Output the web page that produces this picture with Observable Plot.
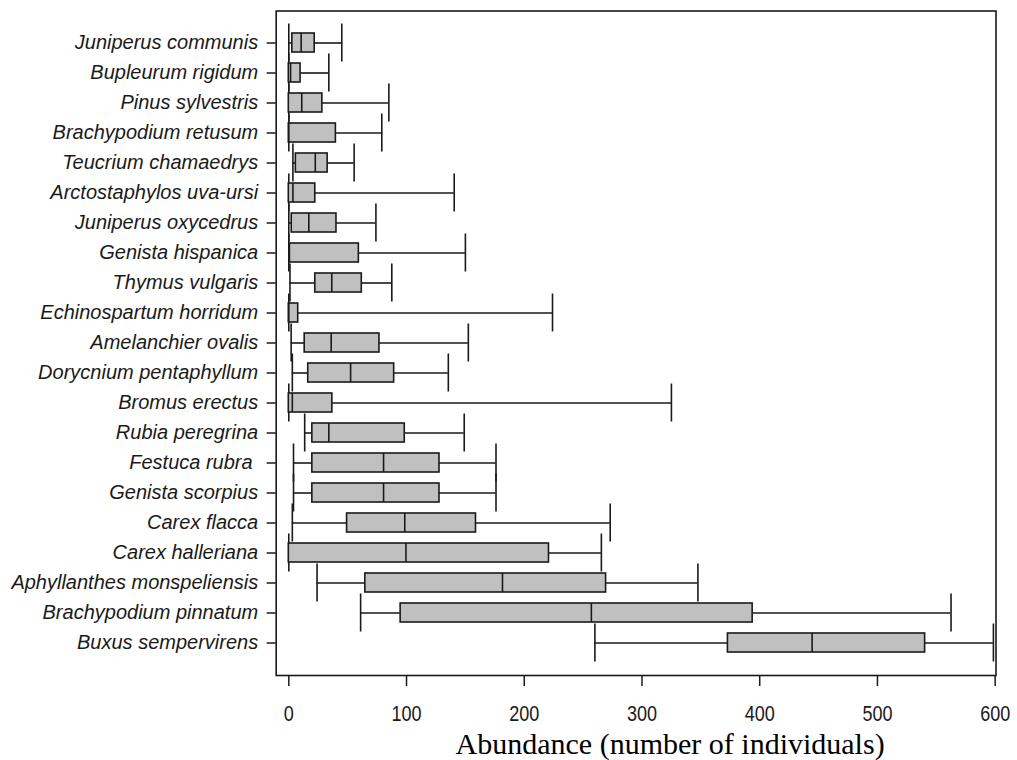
<!DOCTYPE html>
<html><head><meta charset="utf-8">
<script src="https://cdn.jsdelivr.net/npm/d3@7"></script>
<script src="https://cdn.jsdelivr.net/npm/@observablehq/plot@0.6"></script>
<style>
body{margin:0;background:#fff;}
</style></head><body><div id="chart"></div>
<script>
const species = [
  "Juniperus communis","Bupleurum rigidum","Pinus sylvestris","Brachypodium retusum",
  "Teucrium chamaedrys","Arctostaphylos uva-ursi","Juniperus oxycedrus","Genista hispanica",
  "Thymus vulgaris","Echinospartum horridum","Amelanchier ovalis","Dorycnium pentaphyllum",
  "Bromus erectus","Rubia peregrina","Festuca rubra ","Genista scorpius","Carex flacca",
  "Carex halleriana","Aphyllanthes monspeliensis","Brachypodium pinnatum","Buxus sempervirens"
];
const lower  = [0, 0, 0, 0, 3.5, 0, 0, 0, 1, 0, 2, 3, 0, 13.5, 4, 4, 3, 0, 24, 61, 260];
const q1     = [3, 0, 0, 0, 6, 0, 2.5, 0.5, 22.5, 0, 13.5, 16.5, 0, 20, 20, 20, 49.5, 0, 65, 95, 373];
const median = [10.5, 1.5, 11, 0, 22.5, 3.5, 17, 0.5, 36.5, 0, 36, 52.5, 3, 34, 80.5, 80.5, 98.5, 99.5, 181.5, 257, 444.5];
const q3     = [22, 10, 28.5, 40, 33, 22.5, 40.5, 59.5, 62, 8, 77, 89.5, 37, 98.5, 128, 128, 159, 221, 269.5, 394, 540.5];
const upper  = [45, 34, 85, 79, 55.5, 140.5, 74, 150, 87.5, 224, 152.5, 135.5, 325, 149, 176, 176, 273, 265.5, 347.5, 562.5, 598.5];
const xTicks = [0, 100, 200, 300, 400, 500, 600];
const xTitle = "Abundance (number of individuals)";

const rows = species.map((s, i) => ({species: s, lo: lower[i], q1: q1[i], med: median[i], q3: q3[i], hi: upper[i]}));
const ink = "#1a1a1a";
const sw = 1.6;

const chart = Plot.plot({
  width: 1017, height: 760,
  marginLeft: 275.7, marginRight: 21.5, marginTop: 10.5, marginBottom: 85,
  style: {fontFamily: "'Liberation Sans', Arial, sans-serif", background: "#fff", color: ink},
  x: {domain: [-10.7, 600.7]},
  y: {type: "band", domain: species, paddingInner: 0.37, paddingOuter: 0.685},
  marks: [
    Plot.ruleY(rows, {y: "species", x1: "lo", x2: "q1", stroke: ink, strokeWidth: sw}),
    Plot.ruleY(rows, {y: "species", x1: "q3", x2: "hi", stroke: ink, strokeWidth: sw}),
    Plot.tickX(rows, {y: "species", x: "lo", insetTop: -9.5, insetBottom: -9.5, stroke: ink, strokeWidth: sw}),
    Plot.tickX(rows, {y: "species", x: "hi", insetTop: -9.5, insetBottom: -9.5, stroke: ink, strokeWidth: sw}),
    Plot.barX(rows, {y: "species", x1: "q1", x2: "q3", fill: "#c0c0c0", stroke: ink, strokeWidth: sw}),
    Plot.tickX(rows, {y: "species", x: "med", stroke: ink, strokeWidth: sw}),
    Plot.axisY({tickSize: 9, tickPadding: 9, fontSize: 20, fontStyle: "italic", label: null, strokeWidth: 1.5}),
    Plot.axisX({ticks: xTicks, tickFormat: d => String(d), tickSize: 11, tickPadding: 19, fontSize: 22, label: null, strokeWidth: 1.5}),
    Plot.frame({stroke: ink, strokeWidth: sw}),
    Plot.text([xTitle], {text: d => d, frameAnchor: "bottom", dx: 34, dy: 68.4, lineAnchor: "middle",
      fontFamily: "'Liberation Serif', 'Times New Roman', serif", fontSize: 30, fill: "#000"})
  ]
});

// condense the x tick labels horizontally (reference font is narrow)
chart.querySelectorAll('g[aria-label="x-axis tick label"] text').forEach(t => {
  const tr = t.getAttribute("transform");
  if (tr) {
    t.setAttribute("transform", tr + " scale(0.82,1)");
  } else {
    const x = +t.getAttribute("x") || 0, y = +t.getAttribute("y") || 0;
    t.removeAttribute("x"); t.removeAttribute("y");
    t.setAttribute("transform", `translate(${x},${y}) scale(0.82,1)`);
  }
});
document.getElementById("chart").appendChild(chart);
</script>
</body></html>
